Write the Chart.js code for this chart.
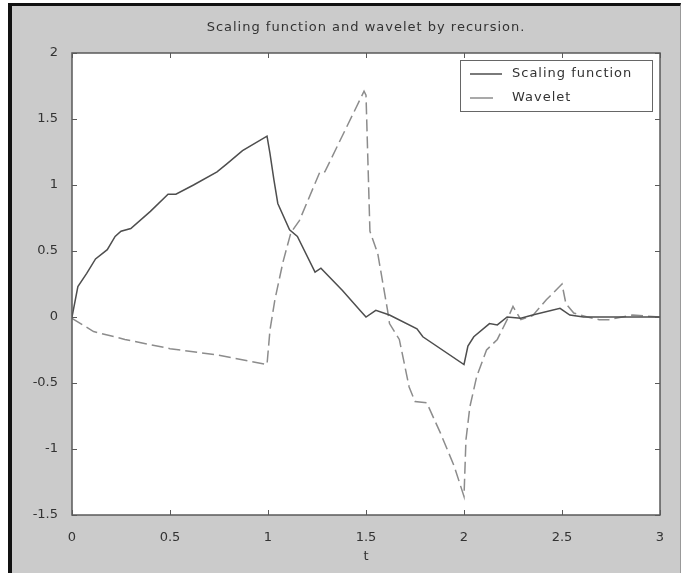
<!DOCTYPE html>
<html>
<head>
<meta charset="utf-8">
<title>Scaling function and wavelet</title>
<script src="https://cdn.jsdelivr.net/npm/chart.js@4.4.0/dist/chart.umd.min.js"></script>
<style>
  html, body { margin: 0; padding: 0; background: #fff; }
  #marco {
    position: absolute; left: 8px; top: 3px; width: 668px; height: 570px;
    background: #cbcbcb; border-left: 4px solid #111; border-top: 3px solid #111;
    border-right: 1px solid #999;
  }
  #grafico { position: absolute; left: 0; top: 0; }
</style>
</head>
<body>
<div id="marco"></div>
<canvas id="grafico" width="681" height="573"></canvas>
<script>
// ============================
// Datos
// ============================
const tEscala = [0, 0.03, 0.075, 0.12, 0.18, 0.22, 0.25, 0.30, 0.40, 0.49,
  0.53, 0.62, 0.74, 0.79, 0.87, 0.995, 1.01, 1.03, 1.05, 1.11,
  1.15, 1.24, 1.27, 1.38, 1.47, 1.50, 1.55, 1.62, 1.76, 1.79,
  2.00, 2.02, 2.05, 2.13, 2.17, 2.22, 2.29, 2.35, 2.49, 2.54,
  2.61, 3.00];
const vEscala = [0, 0.23, 0.33, 0.44, 0.51, 0.61, 0.65, 0.67, 0.80, 0.93,
  0.93, 1.00, 1.10, 1.16, 1.26, 1.37, 1.24, 1.04, 0.86, 0.66,
  0.61, 0.34, 0.37, 0.20, 0.05, 0.00, 0.05, 0.015, -0.09, -0.15,
  -0.36, -0.22, -0.15, -0.05, -0.06, 0.00, -0.01, 0.015, 0.066, 0.015,
  0.00, 0.00];

const tOnda = [0, 0.11, 0.27, 0.50, 0.75, 0.995, 1.01, 1.035, 1.077, 1.117,
  1.16, 1.265, 1.29, 1.49, 1.50, 1.52, 1.56, 1.61, 1.62, 1.67,
  1.72, 1.75, 1.81, 1.88, 1.95, 2.00, 2.01, 2.03, 2.065, 2.115,
  2.17, 2.22, 2.25, 2.29, 2.35, 2.42, 2.50, 2.52, 2.56, 2.63,
  2.69, 2.74, 2.86, 3.00];
const vOnda = [-0.01, -0.11, -0.17, -0.24, -0.29, -0.36, -0.10, 0.13, 0.42, 0.64,
  0.73, 1.10, 1.10, 1.71, 1.68, 0.65, 0.48, 0.05, -0.05, -0.17,
  -0.53, -0.64, -0.65, -0.88, -1.13, -1.36, -0.93, -0.68, -0.45, -0.25,
  -0.17, -0.02, 0.08, -0.02, 0.01, 0.13, 0.25, 0.10, 0.03, 0.00,
  -0.02, -0.02, 0.015, 0.00];

const series = ["Scaling function", "Wavelet"];
const titulo = "Scaling function and wavelet by recursion.";
const limitesX = [0, 3];
const limitesY = [-1.5, 2];
const pasoTicks = 0.5;

const fuente = "'DejaVu Sans', 'Liberation Sans', sans-serif";
const colorTexto = "#333";

// ============================
// Plugin: fondo, marco, ticks hacia dentro, título y leyenda
// ============================
const estiloMatlab = {
  id: "estiloMatlab",
  beforeDraw(chart) {
    const { ctx, chartArea: a } = chart;
    ctx.save();
    ctx.fillStyle = "#fff";
    ctx.fillRect(a.left, a.top, a.right - a.left, a.bottom - a.top);
    ctx.restore();
  },
  afterDraw(chart) {
    const { ctx, chartArea: a, scales } = chart;
    ctx.save();

    // caja de los ejes
    ctx.strokeStyle = "#5a5a5a";
    ctx.lineWidth = 1.5;
    ctx.strokeRect(a.left, a.top, a.right - a.left, a.bottom - a.top);

    // ticks hacia dentro
    const largo = 5;
    ctx.lineWidth = 1;
    ctx.beginPath();
    scales.x.ticks.forEach(t => {
      const px = Math.round(scales.x.getPixelForValue(t.value)) + 0.5;
      ctx.moveTo(px, a.bottom); ctx.lineTo(px, a.bottom - largo);
      ctx.moveTo(px, a.top); ctx.lineTo(px, a.top + largo);
    });
    scales.y.ticks.forEach(t => {
      const py = Math.round(scales.y.getPixelForValue(t.value)) + 0.5;
      ctx.moveTo(a.left, py); ctx.lineTo(a.left + largo, py);
      ctx.moveTo(a.right, py); ctx.lineTo(a.right - largo, py);
    });
    ctx.stroke();

    // título
    ctx.fillStyle = colorTexto;
    ctx.font = "13px " + fuente;
    ctx.letterSpacing = "1px";
    ctx.textAlign = "center";
    ctx.textBaseline = "middle";
    ctx.fillText(titulo, (a.left + a.right) / 2, 28);

    // leyenda
    const caja = { x: 460.5, y: 60.5, w: 192, h: 51 };
    ctx.fillStyle = "#fff";
    ctx.fillRect(caja.x, caja.y, caja.w, caja.h);
    ctx.strokeStyle = "#666";
    ctx.lineWidth = 1;
    ctx.strokeRect(caja.x, caja.y, caja.w, caja.h);

    const filas = [74, 98];
    const largos = [32, 23];
    chart.data.datasets.forEach((ds, i) => {
      ctx.strokeStyle = ds.borderColor;
      ctx.lineWidth = ds.borderWidth;
      ctx.beginPath();
      ctx.moveTo(470, filas[i]);
      ctx.lineTo(470 + largos[i], filas[i]);
      ctx.stroke();
      ctx.fillStyle = colorTexto;
      ctx.textAlign = "left";
      ctx.fillText(ds.label, 512, filas[i]);
    });

    ctx.restore();
  }
};

const puntos = (ts, vs) => ts.map((t, i) => ({ x: t, y: vs[i] }));
// etiquetas al estilo matlab: 2, 1.5, 1, 0.5, 0 ...
const etiqueta = v => String(Math.round(v * 100) / 100);

new Chart(document.getElementById("grafico"), {
  type: "line",
  data: {
    datasets: [
      {
        label: series[0],
        data: puntos(tEscala, vEscala),
        borderColor: "#4e4e4e",
        borderWidth: 1.5,
        pointRadius: 0,
        tension: 0,
        fill: false
      },
      {
        label: series[1],
        data: puntos(tOnda, vOnda),
        borderColor: "#8c8c8c",
        borderWidth: 1.5,
        borderDash: [12, 5],
        pointRadius: 0,
        tension: 0,
        fill: false
      }
    ]
  },
  options: {
    responsive: false,
    animation: false,
    layout: { padding: { left: 0, top: 53, right: 21, bottom: 0 } },
    plugins: {
      legend: { display: false },
      title: { display: false },
      tooltip: { enabled: false }
    },
    scales: {
      x: {
        type: "linear",
        min: limitesX[0],
        max: limitesX[1],
        grid: { display: false },
        border: { display: false },
        ticks: { stepSize: pasoTicks, padding: 7, color: colorTexto, font: { family: fuente, size: 13 }, callback: etiqueta },
        title: { display: true, text: "t", color: colorTexto, font: { family: fuente, size: 13 }, padding: { top: 0, bottom: 9 } },
        afterFit: scale => { scale.height = 58; }
      },
      y: {
        type: "linear",
        min: limitesY[0],
        max: limitesY[1],
        grid: { display: false },
        border: { display: false },
        ticks: { stepSize: pasoTicks, padding: 6, color: colorTexto, font: { family: fuente, size: 13 }, callback: etiqueta },
        afterFit: scale => { scale.width = 72; }
      }
    }
  },
  plugins: [estiloMatlab]
});
</script>
</body>
</html>
